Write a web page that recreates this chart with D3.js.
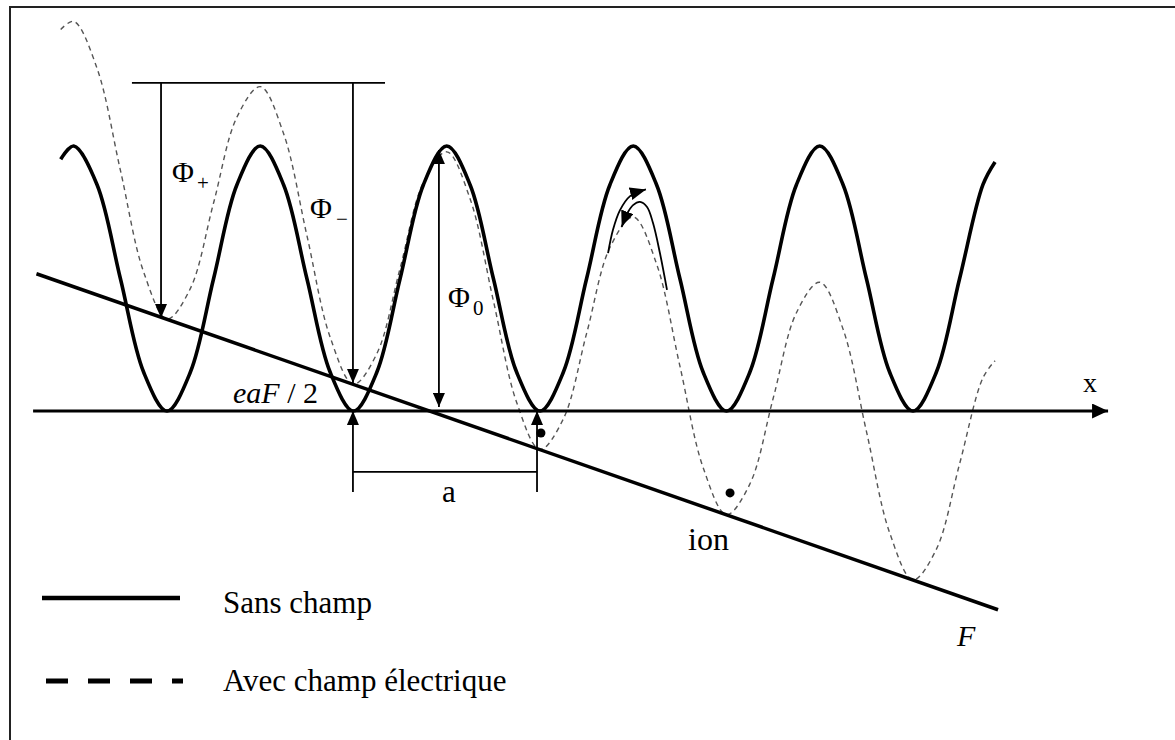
<!DOCTYPE html>
<html>
<head>
<meta charset="utf-8">
<script src="https://cdn.jsdelivr.net/npm/d3@7"></script>
<style>
  body { margin: 0; background: #fff; }
</style>
</head>
<body>
<script>
// position along the lattice, in units of a (minima of the field-free potential at 0,1,2,...)
var xGrid = [-0.57, -0.5, -0.375, -0.25, -0.125, 0, 0.125, 0.25, 0.375, 0.5, 0.625, 0.75, 0.875,
  1, 1.125, 1.25, 1.375, 1.5, 1.625, 1.75, 1.875, 2, 2.125, 2.25, 2.375, 2.5, 2.625, 2.75, 2.875,
  3, 3.125, 3.25, 3.375, 3.5, 3.625, 3.75, 3.875, 4, 4.125, 4.25, 4.375, 4.44];

// potential, in units of Phi0
var sansChamp = [0.95, 1, 0.854, 0.5, 0.146, 0,
  0.146, 0.5, 0.854, 1, 0.854, 0.5, 0.146, 0,
  0.146, 0.5, 0.854, 1, 0.854, 0.5, 0.146, 0,
  0.146, 0.5, 0.854, 1, 0.854, 0.5, 0.146, 0,
  0.146, 0.5, 0.854, 1, 0.854, 0.5, 0.146, 0,
  0.146, 0.5, 0.854, 0.94];

var avecChamp = [1.44, 1.47, 1.293, 0.909, 0.524, 0.347,
  0.462, 0.786, 1.109, 1.224, 1.047, 0.663, 0.278, 0.101,
  0.216, 0.539, 0.863, 0.978, 0.801, 0.416, 0.032, -0.145,
  -0.03, 0.293, 0.617, 0.732, 0.555, 0.17, -0.214, -0.391,
  -0.276, 0.047, 0.371, 0.486, 0.309, -0.076, -0.46, -0.637,
  -0.522, -0.199, 0.125, 0.19];

// the -eFx line
var champX = [-0.70, 4.456];
var champY = [0.518, -0.75];

// ions sitting in the tilted wells
var ionX = [2.005, 3.019];
var ionY = [-0.083, -0.309];

// the two curled arrows over the 4th barrier
var curlUp   = [[2.365, 0.596], [2.391, 0.683], [2.429, 0.758], [2.483, 0.811], [2.568, 0.836]];
var curlDown = [[2.681, 0.457], [2.643, 0.596], [2.606, 0.709], [2.574, 0.770], [2.536, 0.789],
  [2.499, 0.777], [2.472, 0.751], [2.438, 0.695]];

var width = 1175, height = 740;
var serif = '"Liberation Serif", "Times New Roman", Times, "DejaVu Serif", serif';

var x = d3.scaleLinear().domain([0, 4]).range([167, 913]),
    y = d3.scaleLinear().domain([0, 1]).range([411, 146]);

var curve = d3.line()
  .x(function(d) { return x(d[0]); })
  .y(function(d) { return y(d[1]); })
  .curve(d3.curveCatmullRom.alpha(0.5));

var straight = d3.line()
  .x(function(d) { return x(d[0]); })
  .y(function(d) { return y(d[1]); });

var svg = d3.select('body').append('svg')
  .attr('width', width)
  .attr('height', height)
  .attr('font-family', serif)
  .style('font-family', serif);

var defs = svg.append('defs');

function marker(id, len, wid) {
  defs.append('marker')
    .attr('id', id)
    .attr('viewBox', '0 0 ' + len + ' ' + wid)
    .attr('refX', len)
    .attr('refY', wid / 2)
    .attr('markerUnits', 'userSpaceOnUse')
    .attr('markerWidth', len)
    .attr('markerHeight', wid)
    .attr('orient', 'auto-start-reverse')
  .append('path')
    .attr('d', 'M0,0L' + len + ',' + (wid / 2) + 'L0,' + wid + 'Z')
    .attr('fill', '#000');
}
marker('head', 14, 12);
marker('axisHead', 16, 15);
marker('curlHead', 16, 13);

function label(px, py, size) {
  return svg.append('text')
    .attr('x', x(px)).attr('y', y(py))
    .style('font-family', serif)
    .style('font-size', size + 'px')
    .attr('fill', '#000');
}

// frame (only top and left edges are inside the picture)
svg.append('path')
  .attr('d', 'M10,' + height + 'V7H' + width)
  .attr('fill', 'none')
  .attr('stroke', '#222')
  .attr('stroke-width', 2);

// with field (dashed)
svg.append('path')
  .datum(d3.zip(xGrid, avecChamp))
  .attr('d', curve)
  .attr('fill', 'none')
  .attr('stroke', '#555')
  .attr('stroke-width', 1.4)
  .attr('stroke-dasharray', '5,4');

// without field
svg.append('path')
  .datum(d3.zip(xGrid, sansChamp))
  .attr('d', curve)
  .attr('fill', 'none')
  .attr('stroke', '#000')
  .attr('stroke-width', 3.6);

// x axis
svg.append('path')
  .datum([[-0.718, 0], [5.046, 0]])
  .attr('d', straight)
  .attr('stroke', '#000')
  .attr('stroke-width', 3)
  .attr('marker-end', 'url(#axisHead)');

label(4.912, 0.072, 28).text('x');

// field line
svg.append('path')
  .datum(d3.zip(champX, champY))
  .attr('d', straight)
  .attr('stroke', '#000')
  .attr('stroke-width', 3.5);

label(4.236, -0.887, 30).style('font-style', 'italic').text('F');

// annotations
var ann = svg.append('g')
  .attr('fill', 'none')
  .attr('stroke', '#000')
  .attr('stroke-width', 1.8);

ann.append('path').datum([[-0.188, 1.238], [1.169, 1.238]]).attr('d', straight);
ann.append('path').datum([[-0.032, 1.238], [-0.032, 0.351]]).attr('d', straight)
  .attr('marker-end', 'url(#head)');
ann.append('path').datum([[0.997, 1.238], [0.997, 0.106]]).attr('d', straight)
  .attr('marker-end', 'url(#head)');
ann.append('path').datum([[1.458, 0.985], [1.458, 0.015]]).attr('d', straight)
  .attr('marker-start', 'url(#head)')
  .attr('marker-end', 'url(#head)');

// lattice constant bracket
ann.append('path').datum([[0.997, -0.306], [0.997, 0]]).attr('d', straight)
  .attr('marker-end', 'url(#head)');
ann.append('path').datum([[1.984, -0.306], [1.984, 0]]).attr('d', straight)
  .attr('marker-end', 'url(#head)');
ann.append('path').datum([[0.997, -0.23], [1.984, -0.23]]).attr('d', straight);

// curled arrows
ann.append('path').datum(curlUp).attr('d', curve)
  .attr('marker-end', 'url(#curlHead)');
ann.append('path').datum(curlDown).attr('d', curve)
  .attr('marker-end', 'url(#curlHead)');

svg.selectAll('.ion')
  .data(d3.zip(ionX, ionY))
  .enter().append('circle')
  .attr('class', 'ion')
  .attr('cx', function(d) { return x(d[0]); })
  .attr('cy', function(d) { return y(d[1]); })
  .attr('r', 4.5)
  .attr('fill', '#000');

// labels
function phi(px, py, sub, dx) {
  var t = label(px, py, 30);
  t.append('tspan').text('\u03A6');
  t.append('tspan')
    .attr('dx', dx).attr('dy', 8)
    .style('font-size', '21px')
    .text(sub);
}
phi(0.027, 0.864, '+', 3);
phi(0.767, 0.728, '\u2212', 4);
phi(1.507, 0.392, '0', 3);

var eaf = label(0.354, 0.03, 30);
eaf.append('tspan').style('font-style', 'italic').text('eaF');
eaf.append('tspan').text(' / 2');

label(1.475, -0.343, 31).text('a');
label(2.794, -0.525, 32).text('ion');

// legend
var legend = svg.append('g');

legend.append('line')
  .attr('x1', 42).attr('x2', 180)
  .attr('y1', 598).attr('y2', 598)
  .attr('stroke', '#000')
  .attr('stroke-width', 4.5);

legend.append('text')
  .attr('x', 223).attr('y', 613)
  .style('font-family', serif)
  .style('font-size', '31px')
  .text('Sans champ');

legend.append('line')
  .attr('x1', 46).attr('x2', 183)
  .attr('y1', 681).attr('y2', 681)
  .attr('stroke', '#000')
  .attr('stroke-width', 5)
  .attr('stroke-dasharray', '22,20');

legend.append('text')
  .attr('x', 223).attr('y', 691)
  .style('font-family', serif)
  .style('font-size', '31px')
  .text('Avec champ \u00e9lectrique');
</script>
</body>
</html>
